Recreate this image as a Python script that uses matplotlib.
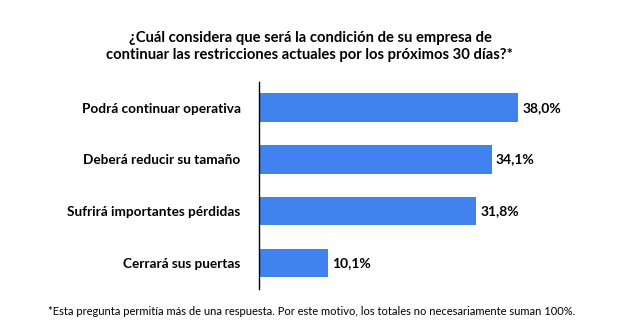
import matplotlib.pyplot as plt

plt.rcParams['font.family'] = ['Lato', 'DejaVu Sans']

categorias = ["Podrá continuar operativa", "Deberá reducir su tamaño",
              "Sufrirá importantes pérdidas", "Cerrará sus puertas"]
porcentajes = [38.0, 34.1, 31.8, 10.1]
etiquetas = ["38,0%", "34,1%", "31,8%", "10,1%"]

fig = plt.figure(figsize=(6.3, 3.28), dpi=100)
ax = fig.add_axes([0.4106, 0.119, 0.434, 0.632])

pos = list(range(len(categorias)))
ax.barh(pos, porcentajes, height=0.55, color='#4082EE')
ax.set_ylim(3.5, -0.5)
ax.set_xlim(0, 40)

for p, v, t in zip(pos, porcentajes, etiquetas):
    ax.text(v + 0.6, p, t, va='center', ha='left', fontsize=10, fontweight='bold')

ax.set_yticks(pos)
ax.set_yticklabels(categorias, fontsize=9.8, fontweight='bold')
ax.tick_params(axis='y', length=0, pad=13)
ax.set_xticks([])
for s in ['top', 'right', 'bottom']:
    ax.spines[s].set_visible(False)
ax.spines['left'].set_linewidth(1.0)

fig.text(0.492, 0.858, "¿Cuál considera que será la condición de su empresa de\n"
         "continuar las restricciones actuales por los próximos 30 días?*",
         ha='center', va='center', fontsize=10.6, fontweight='bold', linespacing=1.3)

fig.text(0.494, 0.049, "*Esta pregunta permitía más de una respuesta. Por este motivo, "
         "los totales no necesariamente suman 100%.",
         ha='center', va='center', fontsize=8)

plt.savefig("out.png", format="png", dpi=100)
